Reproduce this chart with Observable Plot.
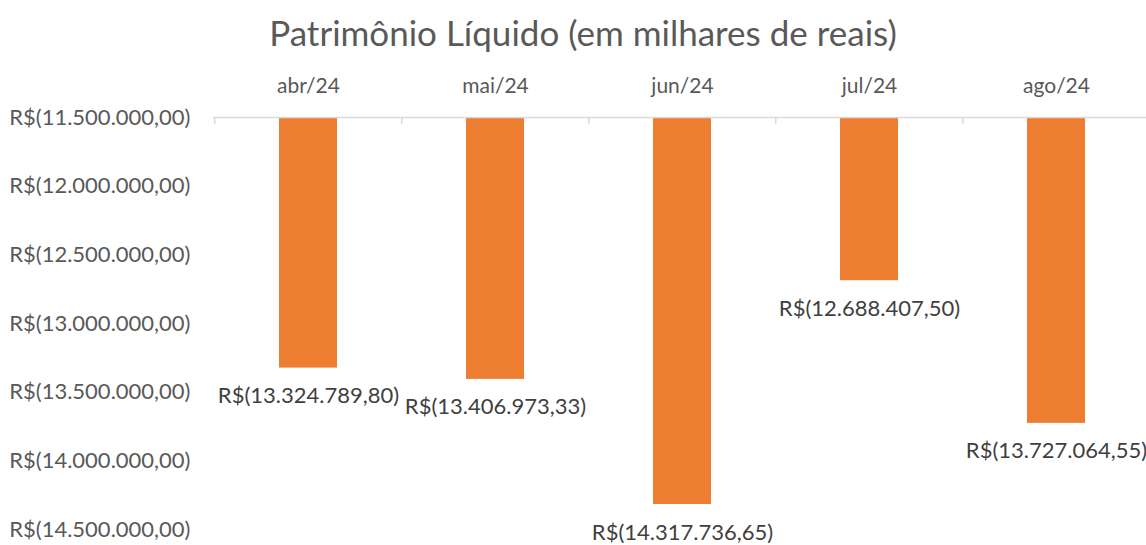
<!DOCTYPE html>
<html><head><meta charset="utf-8">
<script src="https://cdn.jsdelivr.net/npm/d3@7"></script>
<script src="https://cdn.jsdelivr.net/npm/@observablehq/plot@0.6"></script>
<style>
html,body{margin:0;padding:0;background:#fff;overflow:hidden;}
#title{height:58px;box-sizing:border-box;padding-top:10px;padding-left:20px;font-family:Lato,"Open Sans",sans-serif;font-size:35px;line-height:44px;color:#595959;text-align:center;white-space:nowrap;}
</style></head><body>
<div id="title">Patrimônio Líquido (em milhares de reais)</div>
<div id="chart"></div>
<script>
const months = ["abr/24", "mai/24", "jun/24", "jul/24", "ago/24"];
const values = [-13324789.80, -13406973.33, -14317736.65, -12688407.50, -13727064.55];
const yTicks = [-11500000, -12000000, -12500000, -13000000, -13500000, -14000000, -14500000];
const baseline = -11500000;

const data = months.map((m, i) => ({month: m, value: values[i]}));

function brl(v) {
  const a = Math.abs(v);
  const [i, d] = a.toFixed(2).split(".");
  const ii = i.replace(/\B(?=(\d{3})+(?!\d))/g, ".");
  return v < 0 ? `R$(${ii},${d})` : `R$${ii},${d}`;
}

const chart = Plot.plot({
  width: 1146,
  height: 487,
  marginTop: 59,
  marginBottom: 16,
  marginLeft: 213,
  marginRight: -4.5,
  style: {fontFamily: "Lato, 'Open Sans', sans-serif", fontSize: "22px", color: "#595959", background: "white", overflow: "visible"},
  x: {domain: months, paddingInner: 0.69, paddingOuter: 0.345},
  y: {domain: [-14500000, -11500000]},
  marks: [
    Plot.barY(data, {x: "month", y1: baseline, y2: "value", fill: "#ED7D31"}),
    Plot.ruleY([baseline], {stroke: "#D9D9D9", strokeWidth: 1.5}),
    Plot.ruleX(months, {x: d => d, y1: baseline, y2: baseline - 50000, dx: -93.75, stroke: "#D9D9D9", strokeWidth: 1.5}),
    Plot.axisX({anchor: "top", tickSize: 0, tickPadding: 25, fontSize: 21, label: null}),
    Plot.axisY({ticks: yTicks, tickFormat: brl, tickSize: 0, tickPadding: 23, fontSize: 22, label: null}),
    Plot.text(data, {x: "month", y: "value", text: d => brl(d.value), dy: 28, fill: "#404040", fontSize: 22})
  ]
});
document.getElementById("chart").appendChild(chart);
</script>
</body></html>
